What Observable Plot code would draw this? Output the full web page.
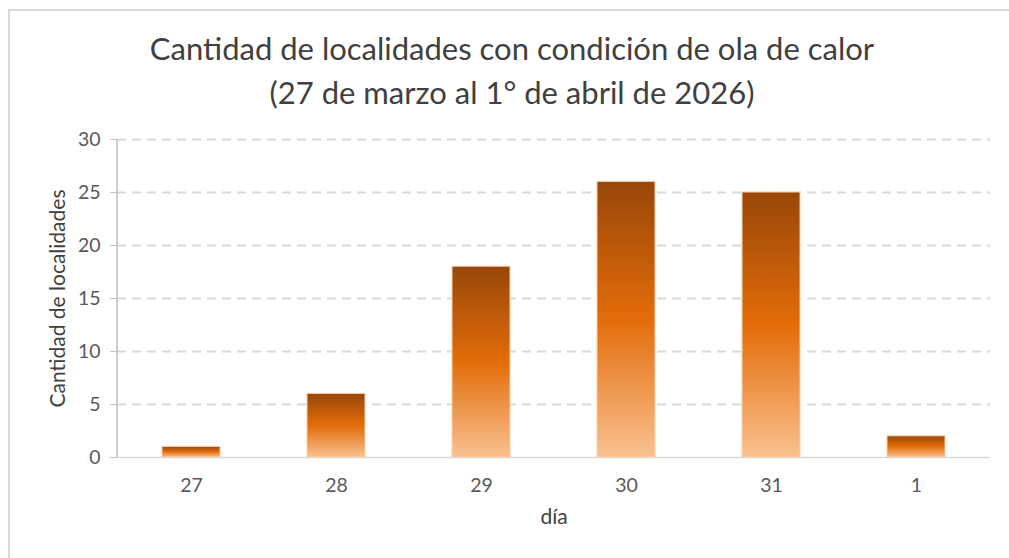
<!DOCTYPE html>
<html><head><meta charset="utf-8">
<script src="https://cdn.jsdelivr.net/npm/d3@7"></script>
<script src="https://cdn.jsdelivr.net/npm/@observablehq/plot@0.6"></script>
<style>
body{margin:0;background:#fff;width:1009px;height:558px;overflow:hidden;position:relative;font-family:Lato,sans-serif}
#frame{position:absolute;left:8px;top:9px;width:1100px;height:600px;border-top:2px solid #d9d9d9;border-left:2px solid #d9d9d9;box-sizing:border-box}
#title{position:absolute;left:0;top:26px;width:1024px;text-align:center;font-size:31px;line-height:44px;color:#404040}
#chart{position:absolute;left:0;top:120px}
</style></head>
<body>
<div id="frame"></div>
<div id="title">Cantidad de localidades con condición de ola de calor<br>(27 de marzo al 1° de abril de 2026)</div>
<div id="chart"></div>
<script>
const dias = ["27", "28", "29", "30", "31", "1"];
const localidades = [1, 6, 18, 26, 25, 2];
const yTicks = [0, 5, 10, 15, 20, 25, 30];
const data = dias.map((d, i) => ({dia: d, n: localidades[i]}));

const yAxisLine = (index, scales, values, dims) => {
  const l = document.createElementNS("http://www.w3.org/2000/svg", "line");
  l.setAttribute("x1", dims.marginLeft);
  l.setAttribute("x2", dims.marginLeft);
  l.setAttribute("y1", dims.marginTop);
  l.setAttribute("y2", dims.height - dims.marginBottom);
  l.setAttribute("stroke", "#bfbfbf");
  l.setAttribute("stroke-width", "1.5");
  return l;
};

const plot = Plot.plot({
  width: 1009, height: 438,
  marginLeft: 117, marginRight: 19, marginTop: 19, marginBottom: 101,
  style: {fontFamily: "Lato, sans-serif", fontSize: "19.5px", color: "#595959", background: "transparent"},
  x: {domain: dias, paddingInner: 0.6, paddingOuter: 0.3, label: null},
  y: {domain: [0, 30], label: null},
  marks: [
    Plot.gridY(yTicks.slice(1), {stroke: "#d9d9d9", strokeOpacity: 1, strokeWidth: 2, strokeDasharray: "9,6"}),
    Plot.ruleY([0], {stroke: "#d9d9d9", strokeWidth: 1.5}),
    Plot.barY(data, {x: "dia", y: "n", fill: "url(#barGrad)", stroke: "#f9cfa8", strokeWidth: 1}),
    Plot.axisY(yTicks, {tickSize: 7, tickPadding: 10, stroke: "#bfbfbf", label: "Cantidad de localidades", labelArrow: "none", labelAnchor: "center", labelOffset: 67}),
    Plot.axisX({tickSize: 0, tickPadding: 21, label: "día", labelArrow: "none", labelAnchor: "center", labelOffset: 66}),
    yAxisLine
  ]
});

d3.select(plot).selectAll('g[aria-label="y-axis label"], g[aria-label="x-axis label"]').attr("font-size", "21px").attr("fill", "#404040");

const defs = d3.select(plot).insert("defs", ":first-child");
const g = defs.append("linearGradient").attr("id", "barGrad")
  .attr("x1", 0).attr("y1", 0).attr("x2", 0).attr("y2", 1);
g.append("stop").attr("offset", "0%").attr("stop-color", "#98470a");
g.append("stop").attr("offset", "50%").attr("stop-color", "#e36c09");
g.append("stop").attr("offset", "100%").attr("stop-color", "#f9c190");

document.getElementById("chart").appendChild(plot);
</script>
</body></html>
